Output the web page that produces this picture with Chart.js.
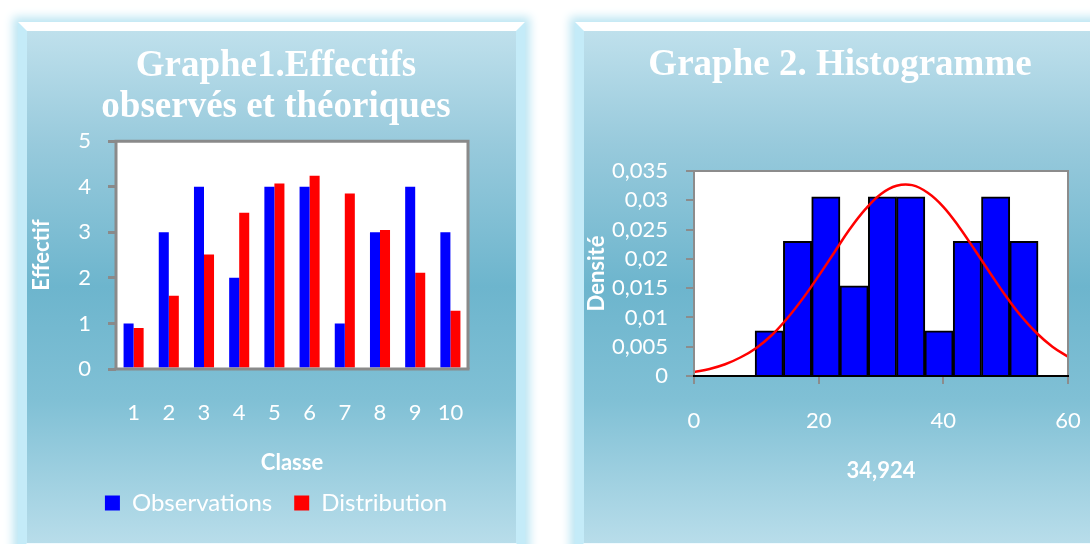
<!DOCTYPE html>
<html>
<head>
<meta charset="utf-8">
<title>Graphes</title>
<script src="https://cdn.jsdelivr.net/npm/chart.js@4.4.1/dist/chart.umd.min.js"></script>
<style>
  html, body { margin: 0; padding: 0; background: #fff; width: 1090px; height: 544px; overflow: hidden; }
  .panel {
    position: absolute;
    top: 22px;
    height: 530px;
    box-sizing: border-box;
    border: 9px solid;
    border-color: #ffffff #c4ebf8 #f2fbff #c4ebf8;
    background: linear-gradient(to bottom, #bfe0ec 0%, #98cadc 22%, #6db5cd 50%, #80c0d5 72%, #b8ddea 100%);
    box-shadow: 0 0 9px 5px #bde6f3;
  }
  #p1 { left: 18px; width: 507px; }
  #p2 { left: 575px; width: 530px; }
  canvas { position: absolute; left: 0; top: 0; }
</style>
</head>
<body>
<div class="panel" id="p1"><canvas id="chart1" width="498" height="512"></canvas></div>
<div class="panel" id="p2"><canvas id="chart2" width="512" height="512"></canvas></div>
<script>
// Graphe 1 : effectifs par classe
var classes = ["1", "2", "3", "4", "5", "6", "7", "8", "9", "10"];
var observations = [1, 3, 4, 2, 4, 4, 1, 3, 4, 3];
var distribution = [0.9, 1.61, 2.51, 3.43, 4.07, 4.24, 3.85, 3.05, 2.11, 1.28];

// Graphe 2 : histogramme (centres des classes et densites) + courbe
var binCenters = [12.07, 16.61, 21.15, 25.69, 30.23, 34.77, 39.31, 43.85, 48.39, 52.93];
var densities = [0.0077, 0.0230, 0.0306, 0.0154, 0.0306, 0.0306, 0.0077, 0.0230, 0.0306, 0.0230];
var curveX = [0, 2.5, 5, 7.5, 10, 12.5, 15, 17.5, 20, 22.5, 25, 27.5, 30, 32.5, 35, 37.5, 40, 42.5, 45, 47.5, 50, 52.5, 55, 57.5, 60];
var curveY = [0.0007, 0.0012, 0.002, 0.0032, 0.0048, 0.007, 0.0099, 0.0133, 0.0171, 0.0211, 0.0251, 0.0285, 0.0311, 0.0325, 0.0326, 0.0313, 0.0289, 0.0255, 0.0216, 0.0176, 0.0137, 0.0102, 0.0073, 0.005, 0.0033];
var densityTickLabels = ["0", "0,005", "0,01", "0,015", "0,02", "0,025", "0,03", "0,035"];

Chart.defaults.font.family = "Lato, 'Open Sans', sans-serif";
Chart.defaults.color = "#ffffff";

// fond blanc de la zone de tracé + cadre
var plotFrame = {
  id: "plotFrame",
  beforeDatasetsDraw: function (chart, args, opts) {
    var a = chart.chartArea;
    var ctx = chart.ctx;
    ctx.save();
    ctx.fillStyle = "#ffffff";
    ctx.fillRect(a.left, a.top, a.right - a.left, a.bottom - a.top);
    ctx.restore();
  },
  afterDatasetsDraw: function (chart, args, opts) {
    var a = chart.chartArea;
    var ctx = chart.ctx;
    ctx.save();
    ctx.lineWidth = opts.width;
    ctx.strokeStyle = opts.color;
    ctx.beginPath();
    ctx.moveTo(a.left, a.bottom);
    ctx.lineTo(a.left, a.top);
    ctx.lineTo(a.right, a.top);
    ctx.lineTo(a.right, a.bottom);
    ctx.stroke();
    ctx.strokeStyle = opts.bottomColor;
    ctx.beginPath();
    ctx.moveTo(a.left - opts.width / 2, a.bottom);
    ctx.lineTo(a.right + opts.width / 2, a.bottom);
    ctx.stroke();
    ctx.restore();
  }
};

// axe vide a droite : fixe le bord droit de la zone de tracé sans decentrer le titre
function spacerAxis(w) {
  return {
    position: "right",
    display: true,
    grid: { display: false },
    border: { display: false },
    ticks: { display: false },
    afterFit: function (scale) { scale.width = w; }
  };
}

var chart1 = new Chart(document.getElementById("chart1"), {
  type: "bar",
  data: {
    labels: classes,
    datasets: [
      { label: "Observations", data: observations, backgroundColor: "#0000ff" },
      { label: "Distribution", data: distribution, backgroundColor: "#ff0000" }
    ]
  },
  options: {
    responsive: false,
    animation: false,
    devicePixelRatio: 1,
    categoryPercentage: 0.57,
    barPercentage: 1,
    layout: { padding: { left: 0, right: 0, top: 0, bottom: 18 } },
    plugins: {
      title: {
        display: true,
        text: ["Graphe1.Effectifs", "observés et théoriques"],
        color: "#ffffff",
        font: { family: "'Liberation Serif', 'Times New Roman', serif", size: 37, weight: "bold", lineHeight: 1.11 },
        padding: { top: 15, bottom: 13 }
      },
      legend: {
        position: "bottom",
        labels: { boxWidth: 15, boxHeight: 15, padding: 22, font: { size: 24 }, color: "#ffffff" }
      },
      tooltip: { enabled: false },
      plotFrame: { color: "#8a8a8a", bottomColor: "#8a8a8a", width: 3 }
    },
    scales: {
      x: {
        grid: { display: false },
        border: { display: false },
        ticks: { font: { size: 22 }, padding: 23, color: "#ffffff" },
        title: { display: true, text: "Classe", font: { size: 22, weight: "bold", lineHeight: 1 }, color: "#ffffff", padding: { top: 0, bottom: -5 } },
        afterFit: function (scale) { scale.height = 100; }
      },
      y: {
        min: 0,
        max: 5,
        ticks: { stepSize: 1, font: { size: 22 }, padding: 17, color: "#ffffff", autoSkip: false },
        grid: { drawOnChartArea: false, tickLength: 8, color: "#8a8a8a", lineWidth: 3 },
        border: { display: false },
        title: { display: true, text: "Effectif", font: { size: 22, weight: "bold" }, color: "#ffffff", padding: { top: 2, bottom: 0 } },
        afterFit: function (scale) { scale.width = 89; }
      },
      yRight: spacerAxis(57)
    }
  },
  plugins: [plotFrame]
});

var histPoints = binCenters.map(function (c, i) { return { x: c, y: densities[i] }; });
var curvePoints = curveX.map(function (x, i) { return { x: x, y: curveY[i] }; });

var chart2 = new Chart(document.getElementById("chart2"), {
  type: "bar",
  data: {
    datasets: [
      {
        type: "line",
        label: "Loi normale",
        data: curvePoints,
        borderColor: "#ff0000",
        borderWidth: 2.5,
        pointRadius: 0,
        tension: 0.4,
        fill: false,
        yAxisID: "y",
        order: 0
      },
      {
        label: "Densité",
        data: histPoints,
        backgroundColor: "#0000ff",
        borderColor: "#000000",
        borderWidth: 2,
        barPercentage: 1,
        categoryPercentage: 1,
        yAxisID: "y",
        order: 1
      }
    ]
  },
  options: {
    responsive: false,
    animation: false,
    devicePixelRatio: 1,
    layout: { padding: { left: 0, right: 0, top: 0, bottom: 37 } },
    plugins: {
      title: {
        display: true,
        text: "Graphe 2. Histogramme",
        color: "#ffffff",
        font: { family: "'Liberation Serif', 'Times New Roman', serif", size: 37, weight: "bold", lineHeight: 1.11 },
        padding: { top: 14, bottom: 85 }
      },
      legend: { display: false },
      tooltip: { enabled: false },
      plotFrame: { color: "#8c8c8c", bottomColor: "#000000", width: 2 }
    },
    scales: {
      x: {
        type: "linear",
        min: 0,
        max: 60,
        offset: false,
        ticks: { stepSize: 20, font: { size: 22 }, padding: 24, color: "#ffffff" },
        grid: { drawOnChartArea: false, tickLength: 8, color: "#8c8c8c", lineWidth: 2, offset: false },
        border: { display: false },
        title: { display: true, text: "34,924", font: { size: 22, weight: "bold" }, color: "#ffffff", padding: { top: 0, bottom: 22 } },
        afterFit: function (scale) {
          scale.height = 130;
          scale.paddingLeft = 0;
          scale.paddingRight = 0;
        }
      },
      y: {
        min: 0,
        max: 0.035,
        ticks: {
          stepSize: 0.005,
          autoSkip: false,
          font: { size: 22 },
          padding: 18,
          color: "#ffffff",
          callback: function (value) { return densityTickLabels[Math.round(value / 0.005)]; }
        },
        grid: { drawOnChartArea: false, tickLength: 8, color: "#8c8c8c", lineWidth: 2 },
        border: { display: false },
        title: { display: true, text: "Densité", font: { size: 22, weight: "bold" }, color: "#ffffff", padding: { top: 0, bottom: 0 } },
        afterFit: function (scale) { scale.width = 110; }
      },
      yRight: spacerAxis(28)
    }
  },
  plugins: [plotFrame]
});
</script>
</body>
</html>
